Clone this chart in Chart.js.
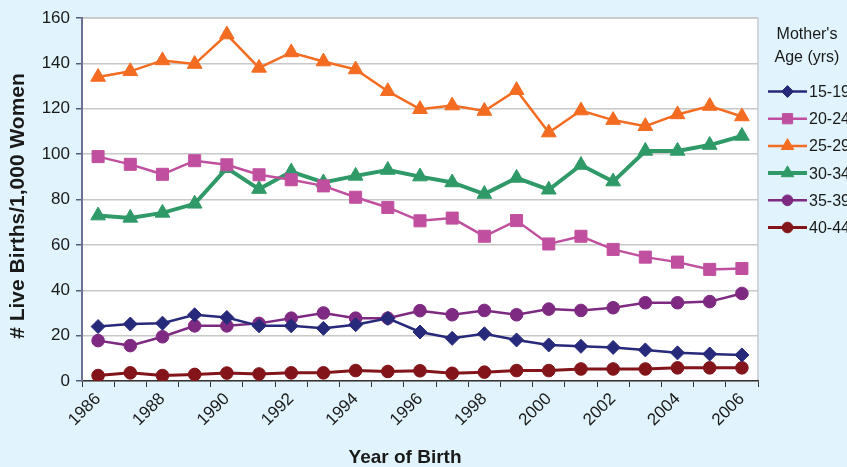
<!DOCTYPE html>
<html>
<head>
<meta charset="utf-8">
<script src="https://cdn.jsdelivr.net/npm/chart.js@4"></script>
<style>
  html, body { margin: 0; padding: 0; background: #e1f3fc; }
  #wrap { width: 847px; height: 467px; }
</style>
</head>
<body>
<div id="wrap"><canvas id="birthChart" width="847" height="467"></canvas></div>
<script>
// birth rates per 1,000 women by mother's age group
const years = ['1986', '1987', '1988', '1989', '1990', '1991', '1992', '1993', '1994', '1995', '1996',
               '1997', '1998', '1999', '2000', '2001', '2002', '2003', '2004', '2005', '2006'];

const age15to19 = [24, 25.1, 25.5, 29.2, 28, 24.3, 24.3, 23.2, 24.8, 27.6, 21.6, 18.8, 20.8, 18.1, 15.9, 15.3, 14.8, 13.7, 12.4, 11.9, 11.5];
const age20to24 = [98.9, 95.5, 91.1, 97.1, 95.3, 90.9, 88.7, 86, 81, 76.5, 70.6, 71.8, 63.8, 70.7, 60.4, 63.8, 58, 54.6, 52.4, 49.2, 49.6];
const age25to29 = [134, 136.5, 141.3, 139.7, 152.7, 138, 144.8, 140.8, 137.3, 127.7, 119.8, 121.4, 119, 128.2, 109.5, 119.2, 115, 112.3, 117.5, 121.2, 116.6];
const age30to34 = [72.9, 71.9, 74.1, 78.1, 93.8, 84.6, 92.3, 87.5, 90.4, 93, 90.1, 87.5, 82.4, 89.5, 84.3, 95.2, 87.9, 101.4, 101.4, 104, 108];
const age35to39 = [17.8, 15.6, 19.5, 24.3, 24.3, 25.4, 27.7, 30, 27.7, 27.7, 31, 29.2, 31.1, 29.2, 31.7, 31.1, 32.3, 34.5, 34.5, 35, 38.6];
const age40to44 = [2.4, 3.6, 2.4, 2.9, 3.5, 3.1, 3.6, 3.6, 4.6, 4.2, 4.5, 3.4, 3.9, 4.6, 4.6, 5.3, 5.3, 5.3, 5.8, 5.8, 5.8];

const yTicks = [0, 20, 40, 60, 80, 100, 120, 140, 160];

const series = [
  { label: '15-19', data: age15to19, color: '#27297a', style: 'rectRot', radius: 7, width: 2.5 },
  { label: '20-24', data: age20to24, color: '#c0509f', style: 'rect', radius: 8.5, width: 2.5 },
  { label: '25-29', data: age25to29, color: '#f36c21', style: 'triangle', radius: 8.5, width: 2.5 },
  { label: '30-34', data: age30to34, color: '#2f9a67', style: 'triangle', radius: 8.5, width: 4 },
  { label: '35-39', data: age35to39, color: '#7f2a82', style: 'circle', radius: 6.3, width: 2.5 },
  { label: '40-44', data: age40to44, color: '#83151a', style: 'circle', radius: 6.3, width: 3 }
];

const FONT = "'Liberation Sans', Arial, sans-serif";
const TEXT = '#1a1a1a';

// white plot area with a light frame
const plotFrame = {
  id: 'plotFrame',
  beforeDraw(chart) {
    const { ctx, chartArea: a } = chart;
    ctx.save();
    ctx.fillStyle = '#ffffff';
    ctx.fillRect(a.left, a.top, a.right - a.left, a.bottom - a.top);
    ctx.strokeStyle = '#cfd6dc';
    ctx.lineWidth = 2;
    ctx.beginPath();
    ctx.moveTo(a.left, a.top);
    ctx.lineTo(a.right, a.top);
    ctx.lineTo(a.right, a.bottom);
    ctx.stroke();
    ctx.restore();
  }
};

// axis titles
const axisTitles = {
  id: 'axisTitles',
  afterDraw(chart) {
    const ctx = chart.ctx;
    ctx.save();
    ctx.fillStyle = TEXT;
    ctx.textAlign = 'center';
    ctx.textBaseline = 'middle';
    ctx.font = 'bold 19px ' + FONT;
    ctx.fillText('Year of Birth', 405, 458);
    ctx.translate(18, 206);
    ctx.rotate(-Math.PI / 2);
    ctx.font = 'bold 21px ' + FONT;
    ctx.fillText('# Live Births/1,000 Women', 0, 0);
    ctx.restore();
  }
};

// legend on the right: line with marker, and a two-line title
const sideLegend = {
  id: 'sideLegend',
  afterDraw(chart) {
    const ctx = chart.ctx;
    ctx.save();
    ctx.fillStyle = TEXT;
    ctx.font = '16px ' + FONT;
    ctx.textAlign = 'center';
    ctx.textBaseline = 'middle';
    ctx.fillText("Mother's", 807, 35);
    ctx.fillText('Age (yrs)', 807, 58);
    ctx.textAlign = 'left';
    chart.data.datasets.forEach((ds, i) => {
      const y = 91.5 + i * 27.2;
      ctx.strokeStyle = ds.borderColor;
      ctx.lineWidth = ds.borderWidth;
      ctx.beginPath();
      ctx.moveTo(768, y);
      ctx.lineTo(807, y);
      ctx.stroke();
      ctx.fillStyle = ds.backgroundColor;
      ctx.strokeStyle = ds.borderColor;
      ctx.lineWidth = 1;
      Chart.helpers.drawPoint(ctx, { pointStyle: ds.pointStyle, radius: ds.pointRadius * 0.85, rotation: 0, borderWidth: 1 }, 787.5, y);
      ctx.fillStyle = TEXT;
      ctx.fillText(ds.label, 809, y + 1);
    });
    ctx.restore();
  }
};

const ctx = document.getElementById('birthChart').getContext('2d');
const birthChart = new Chart(ctx, {
  type: 'line',
  data: {
    labels: years,
    datasets: series.map(s => ({
      label: s.label,
      data: s.data,
      borderColor: s.color,
      backgroundColor: s.color,
      borderWidth: s.width,
      pointStyle: s.style,
      pointRadius: s.radius,
      pointBorderWidth: 1,
      pointBackgroundColor: s.color,
      pointBorderColor: s.color,
      tension: 0
    }))
  },
  options: {
    responsive: false,
    animation: false,
    layout: { padding: { left: 0, right: 89, top: 18, bottom: 0 } },
    plugins: {
      legend: { display: false },
      tooltip: { enabled: false }
    },
    scales: {
      x: {
        offset: true,
        grid: { offset: true, drawOnChartArea: false, drawTicks: true, tickLength: 6, color: '#333333' },
        border: { color: '#333333', width: 1.5 },
        ticks: {
          autoSkip: false,
          minRotation: 45,
          maxRotation: 45,
          padding: 2,
          color: TEXT,
          font: { family: FONT, size: 17 },
          callback: (v, i) => (i % 2 === 0 ? years[i] : '')
        },
        afterFit: scale => { scale.height = 86; }
      },
      y: {
        min: 0,
        max: 160,
        afterBuildTicks: scale => { scale.ticks = yTicks.map(v => ({ value: v })); },
        grid: { color: '#c8c8c8', lineWidth: 1.5, tickLength: 6, tickColor: '#555a7a' },
        border: { color: '#6d7093', width: 2 },
        ticks: {
          padding: 6,
          color: TEXT,
          font: { family: FONT, size: 17 }
        },
        afterFit: scale => { scale.width = 82; }
      }
    }
  },
  plugins: [plotFrame, axisTitles, sideLegend]
});
</script>
</body>
</html>
